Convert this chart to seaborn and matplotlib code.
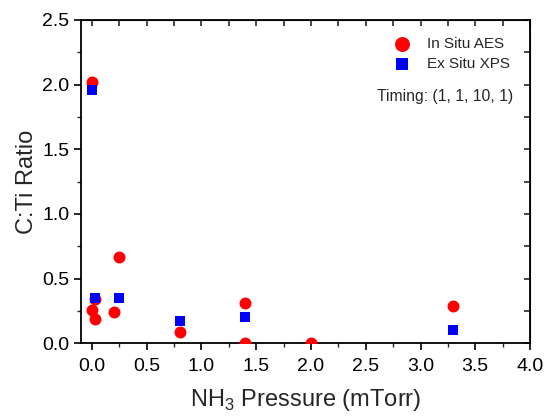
import matplotlib
matplotlib.use("Agg")
import matplotlib.pyplot as plt
import seaborn as sns
import pandas as pd
from matplotlib.ticker import MultipleLocator, FormatStrFormatter

sns.set_style("ticks")
plt.rcParams['font.family'] = ['Liberation Sans', 'DejaVu Sans']
plt.rcParams['mathtext.fontset'] = 'custom'
plt.rcParams['mathtext.rm'] = 'Liberation Sans'

aes_x = [0.0, 0.0, 0.03, 0.03, 0.2, 0.25, 0.8, 1.4, 1.4, 2.0, 3.3]
aes_y = [2.02, 0.26, 0.34, 0.19, 0.24, 0.67, 0.09, 0.31, 0.0, 0.0, 0.29]
xps_x = [0.0, 0.03, 0.25, 0.8, 1.4, 3.3]
xps_y = [1.96, 0.35, 0.35, 0.17, 0.20, 0.10]
series = ["In Situ AES", "Ex Situ XPS"]

aes = pd.DataFrame({"x": aes_x, "y": aes_y})
xps = pd.DataFrame({"x": xps_x, "y": xps_y})

fig = plt.figure(figsize=(5.47, 4.16), dpi=100)
ax = fig.add_axes([0.148, 0.175, 0.821, 0.777])

sns.scatterplot(data=aes, x="x", y="y", color="#ff0000", marker="o",
                s=74, linewidth=0, ax=ax, zorder=3, label=series[0])
sns.scatterplot(data=xps, x="x", y="y", color="#0000ff", marker="s",
                s=55, linewidth=0, ax=ax, zorder=4, label=series[1])

ax.set_xlim(-0.1, 4.0)
ax.set_ylim(0, 2.5)
ax.xaxis.set_major_locator(MultipleLocator(0.5))
ax.xaxis.set_minor_locator(MultipleLocator(0.25))
ax.yaxis.set_major_locator(MultipleLocator(0.5))
ax.yaxis.set_minor_locator(MultipleLocator(0.25))
ax.xaxis.set_major_formatter(FormatStrFormatter('%.1f'))
ax.yaxis.set_major_formatter(FormatStrFormatter('%.1f'))

for sp in ax.spines.values():
    sp.set_visible(True)
    sp.set_linewidth(1.3)
    sp.set_color("black")

ax.tick_params(which="major", direction="out", length=5, width=1.2, labelsize=14,
               top=False, right=False, colors="black")
ax.tick_params(axis="x", which="major", pad=6)
ax.tick_params(which="minor", direction="out", length=3, width=1.0, top=False, right=False)

axt = ax.secondary_xaxis('top')
axt.xaxis.set_major_locator(MultipleLocator(0.25))
axt.tick_params(direction="in", length=4.5, width=1.2, labeltop=False)
axt.set_xticklabels([])
axr = ax.secondary_yaxis('right')
axr.yaxis.set_major_locator(MultipleLocator(0.25))
axr.tick_params(direction="in", length=4.5, width=1.2, labelright=False)
axr.set_yticklabels([])

ax.set_xlabel("NH$_3$ Pressure (mTorr)", fontsize=17, labelpad=8)
ax.set_ylabel("C:Ti Ratio", fontsize=17, labelpad=3)

ax.legend(loc="upper right", frameon=False, fontsize=11,
          bbox_to_anchor=(0.985, 0.99), handletextpad=0.6,
          labelspacing=0.4, markerscale=1.25)
ax.text(0.962, 0.762, "Timing: (1, 1, 10, 1)", transform=ax.transAxes,
        ha="right", va="center", fontsize=11.3)

fig.savefig("out.png", dpi=100)
